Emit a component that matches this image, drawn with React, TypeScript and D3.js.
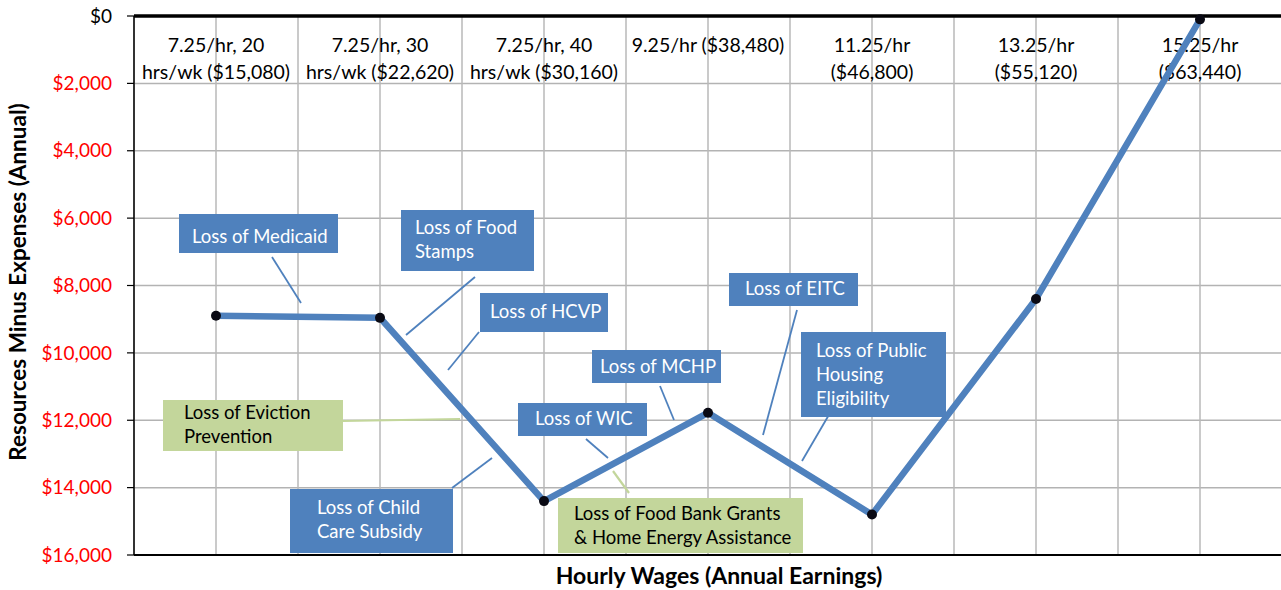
import React from "react";
import * as d3 from "d3";

const categories: string[][] = [
  ["7.25/hr, 20", "hrs/wk ($15,080)"],
  ["7.25/hr, 30", "hrs/wk ($22,620)"],
  ["7.25/hr, 40", "hrs/wk ($30,160)"],
  ["9.25/hr ($38,480)"],
  ["11.25/hr", "($46,800)"],
  ["13.25/hr", "($55,120)"],
  ["15.25/hr", "($63,440)"],
];
const values: number[] = [8900, 8960, 14400, 11780, 14800, 8400, 100];
const yTicks: number[] = [0, 2000, 4000, 6000, 8000, 10000, 12000, 14000, 16000];

type Ann = {
  lines: string[];
  kind: "blue" | "green";
  box: [number, number, number, number];
  textX: number;
  textY: number;
  leader: [number, number, number, number];
};
const annotations: Ann[] = [
  { lines: ["Loss of Medicaid"], kind: "blue", box: [179, 214, 159, 39], textX: 192, textY: 237, leader: [272, 257, 301, 303] },
  { lines: ["Loss of Food", "Stamps"], kind: "blue", box: [401, 210, 133, 61], textX: 415, textY: 228, leader: [475, 277, 406, 335] },
  { lines: ["Loss of HCVP"], kind: "blue", box: [480, 293, 128, 39], textX: 490, textY: 312, leader: [479, 332, 448, 370] },
  { lines: ["Loss of MCHP"], kind: "blue", box: [592, 350, 129, 33], textX: 600, textY: 367, leader: [660, 386, 674, 420] },
  { lines: ["Loss of EITC"], kind: "blue", box: [729, 273, 129, 33], textX: 745, textY: 289, leader: [797, 310, 763, 435] },
  { lines: ["Loss of Public", "Housing", "Eligibility"], kind: "blue", box: [801, 332, 145, 85], textX: 816, textY: 351, leader: [830, 413, 802, 461] },
  { lines: ["Loss of Eviction", "Prevention"], kind: "green", box: [163, 400, 180, 51], textX: 184, textY: 413, leader: [343, 421, 460, 419] },
  { lines: ["Loss of Child", "Care Subsidy"], kind: "blue", box: [290, 489, 163, 64], textX: 317, textY: 508, leader: [452, 488, 492, 458] },
  { lines: ["Loss of WIC"], kind: "blue", box: [518, 403, 129, 33], textX: 535, textY: 419, leader: [586, 439, 608, 458] },
  { lines: ["Loss of Food Bank Grants", "& Home Energy Assistance"], kind: "green", box: [558, 498, 245, 55], textX: 574, textY: 514, leader: [629, 493, 613, 471] },
];

const W = 1281;
const H = 590;
const FONT = "Lato, 'Open Sans', sans-serif";

export default function App() {
  const left = 134;
  const right = 1282;
  const top = 16;
  const bottom = 555;
  const x = d3.scaleBand<number>().domain(d3.range(categories.length)).range([left, right]);
  const y = d3.scaleLinear().domain([0, 16000]).range([top, bottom]);
  const bw = x.bandwidth();
  const cx = (i: number) => (x(i) as number) + bw / 2;
  const line = d3
    .line<number>()
    .x((_, i) => cx(i))
    .y((d) => y(d));

  const gridX: number[] = [];
  categories.forEach((_, i) => {
    gridX.push(x(i) as number);
    gridX.push(cx(i));
  });

  return (
    <svg width={W} height={H} style={{ position: "absolute", left: 0, top: 0, background: "#fff" }} fontFamily={FONT}>
      <rect x={0} y={0} width={W} height={H} fill="#fff" />
      {yTicks.map((t) => (
        <line key={"h" + t} x1={left} x2={right} y1={y(t)} y2={y(t)} stroke="#b3b3b3" strokeWidth={1.5} />
      ))}
      {gridX.map((gx, i) => (
        <line key={"v" + i} x1={gx} x2={gx} y1={top} y2={bottom} stroke="#b8b8b8" strokeWidth={1.5} />
      ))}
      <line x1={left} x2={right} y1={top} y2={top} stroke="#000" strokeWidth={3.5} />
      <line x1={left} x2={right} y1={bottom} y2={bottom} stroke="#000" strokeWidth={2} />
      <line x1={left} x2={left} y1={top} y2={bottom} stroke="#000" strokeWidth={1.5} />
      {yTicks.map((t) => (
        <g key={"t" + t}>
          <line x1={127} x2={left} y1={y(t)} y2={y(t)} stroke="#000" strokeWidth={1.2} />
          <text x={112} y={y(t)} dy="0.35em" textAnchor="end" fontSize={19} fill={t === 0 ? "#000" : "#ff0000"}>
            {d3.format("$,")(t)}
          </text>
        </g>
      ))}
      {categories.map((c, i) => (
        <text key={"c" + i} x={cx(i)} textAnchor="middle" fontSize={19.5} fill="#000">
          {c.map((l, j) => (
            <tspan key={j} x={cx(i)} y={45 + j * 27} dy="0.35em">
              {l}
            </tspan>
          ))}
        </text>
      ))}
      {annotations.map((a, i) => (
        <line
          key={"l" + i}
          x1={a.leader[0]}
          y1={a.leader[1]}
          x2={a.leader[2]}
          y2={a.leader[3]}
          stroke={a.kind === "blue" ? "#4f81bd" : "#c3d69b"}
          strokeWidth={a.kind === "blue" ? 1.8 : 2.2}
        />
      ))}
      <path d={line(values) || ""} fill="none" stroke="#4f81bd" strokeWidth={6.5} strokeLinejoin="miter" />
      {values.map((v, i) => (
        <circle key={"p" + i} cx={cx(i)} cy={y(v)} r={5} fill="#0a0a14" />
      ))}
      {annotations.map((a, i) => (
        <g key={"a" + i}>
          <rect
            x={a.box[0]}
            y={a.box[1]}
            width={a.box[2]}
            height={a.box[3]}
            fill={a.kind === "blue" ? "#4f81bd" : "#c3d69b"}
          />
          <text fontSize={18.5} fill={a.kind === "blue" ? "#fff" : "#000"}>
            {a.lines.map((l, j) => (
              <tspan key={j} x={a.textX} y={a.textY + j * 24} dy="0.35em">
                {l}
              </tspan>
            ))}
          </text>
        </g>
      ))}
      <text x={719} y={576} dy="0.35em" textAnchor="middle" fontSize={23} fontWeight="bold" fill="#000">
        Hourly Wages (Annual Earnings)
      </text>
      <text
        transform={`translate(18,282) rotate(-90)`}
        dy="0.35em"
        textAnchor="middle"
        fontSize={22.5}
        fontWeight="bold"
        fill="#000"
      >
        Resources Minus Expenses (Annual)
      </text>
    </svg>
  );
}
